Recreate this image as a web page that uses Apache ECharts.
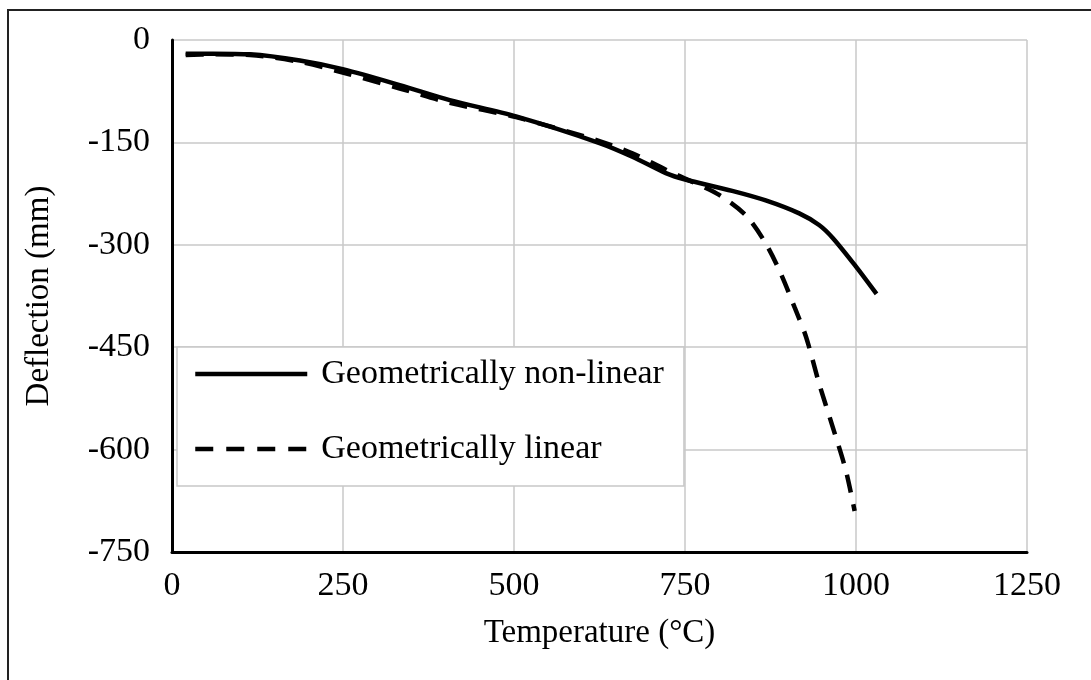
<!DOCTYPE html>
<html>
<head>
<meta charset="utf-8">
<script src="https://cdn.jsdelivr.net/npm/echarts@6/dist/echarts.min.js"></script>
<style>
html,body{margin:0;padding:0;background:#fff;}
#chart{width:1091px;height:680px;}
</style>
</head>
<body>
<div id="chart"></div>
<script>
// Temperature (°C) and deflection (mm)
const tempNonLinear = [20, 60, 114, 187, 251, 333, 406, 503, 625, 673, 722, 749, 819, 868, 917, 946, 966, 1000, 1030];
const deflNonLinear = [-20, -20, -21, -30, -43, -66, -88, -112, -151, -171, -195, -204, -221, -235, -254, -271, -290, -332, -372];
const tempLinear = [20, 60, 114, 187, 251, 333, 406, 503, 625, 673, 722, 761, 800, 839, 868, 890, 910, 927, 946, 966, 985, 998];
const deflLinear = [-22, -21, -22, -32, -48, -71, -92, -113, -148, -166, -190, -208, -227, -257, -298, -342, -391, -435, -503, -567, -630, -690];
const seriesNames = ['Geometrically non-linear', 'Geometrically linear'];
const xTicks = [0, 250, 500, 750, 1000, 1250];
const yTicks = [0, -150, -300, -450, -600, -750];

const zip = (a, b) => a.map((v, i) => [v, b[i]]);
const FONT = 'Liberation Serif';

const chart = echarts.init(document.getElementById('chart'));
chart.setOption({
  animation: false,
  backgroundColor: '#fff',
  graphic: [{
    type: 'rect', z: -1, silent: true,
    shape: { x: 8, y: 10, width: 1100, height: 700 },
    style: { fill: 'none', stroke: '#222', lineWidth: 2 }
  }],
  grid: { left: 172, top: 40, right: 64, bottom: 128 },
  xAxis: {
    type: 'value', min: xTicks[0], max: xTicks[xTicks.length - 1], interval: 250,
    name: 'Temperature (°C)', nameLocation: 'middle', nameGap: 65,
    nameTextStyle: { fontFamily: FONT, fontSize: 33, color: '#000' },
    axisLine: { onZero: false, lineStyle: { color: '#000', width: 3 } },
    axisTick: { show: false },
    axisLabel: { fontFamily: FONT, fontSize: 34, color: '#000', margin: 17, formatter: v => String(v) },
    splitLine: { show: true, lineStyle: { color: '#c8c8c8', width: 1.5 } }
  },
  yAxis: {
    type: 'value', min: yTicks[yTicks.length - 1], max: yTicks[0], interval: 150,
    name: 'Deflection (mm)', nameLocation: 'middle', nameGap: 116,
    nameTextStyle: { fontFamily: FONT, fontSize: 33, color: '#000' },
    axisLine: { show: true, onZero: false, lineStyle: { color: '#000', width: 3 } },
    axisTick: { show: false },
    axisLabel: { fontFamily: FONT, fontSize: 34, color: '#000', margin: 22, formatter: v => String(v) },
    splitLine: { show: true, lineStyle: { color: '#c8c8c8', width: 1.5 } }
  },
  legend: {
    orient: 'vertical', left: 177, top: 347,
    backgroundColor: '#fff', borderColor: '#c8c8c8', borderWidth: 1.5,
    padding: [10, 20, 20, 16],
    itemWidth: 112, itemHeight: 34, itemGap: 41,
    itemStyle: { opacity: 0 },
    textStyle: { fontFamily: FONT, fontSize: 34, color: '#000', padding: [0, 0, 0, 9] },
    data: [
      { name: seriesNames[0], lineStyle: { width: 4.5, type: 'solid', color: '#000' } },
      { name: seriesNames[1], lineStyle: { width: 4.5, type: [18, 13], color: '#000' } }
    ]
  },
  series: [
    {
      name: seriesNames[0], type: 'line', smooth: 0.3, symbol: 'none',
      data: zip(tempNonLinear, deflNonLinear),
      lineStyle: { color: '#000', width: 4.5, type: 'solid' },
      itemStyle: { color: '#000' }
    },
    {
      name: seriesNames[1], type: 'line', smooth: 0.3, symbol: 'none',
      data: zip(tempLinear, deflLinear),
      lineStyle: { color: '#000', width: 4.5, type: [18, 12] },
      itemStyle: { color: '#000' }
    }
  ]
});
</script>
</body>
</html>
